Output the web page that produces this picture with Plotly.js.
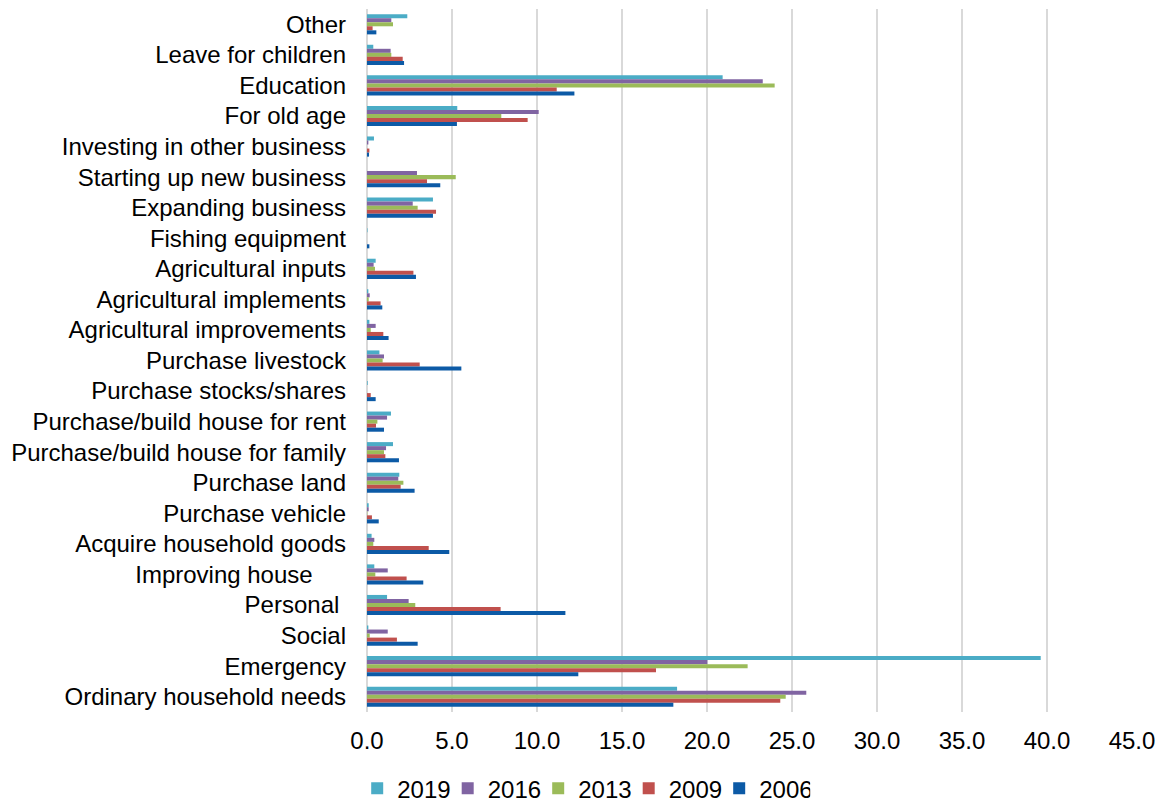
<!DOCTYPE html>
<html>
<head>
<meta charset="utf-8">
<script src="https://cdn.plot.ly/plotly-3.0.1.min.js"></script>
<style>
  html, body { margin: 0; padding: 0; background: #fff; }
  #chart { width: 1162px; height: 803px; }
</style>
</head>
<body>
<div id="chart"></div>
<script>
// Categories, listed top to bottom as displayed
const categories = [
  "Other",
  "Leave for children",
  "Education",
  "For old age",
  "Investing in other business",
  "Starting up new business",
  "Expanding business",
  "Fishing equipment",
  "Agricultural inputs",
  "Agricultural implements",
  "Agricultural improvements",
  "Purchase livestock",
  "Purchase stocks/shares",
  "Purchase/build house for rent",
  "Purchase/build house for family",
  "Purchase land",
  "Purchase vehicle",
  "Acquire household goods",
  "Improving house\u00A0\u00A0\u00A0\u00A0\u00A0",
  "Personal\u00A0",
  "Social",
  "Emergency",
  "Ordinary household needs"
];

const seriesNames = ["2019", "2016", "2013", "2009", "2006"];

const values2019 = [2.37, 0.37, 20.92, 5.31, 0.41, 0.00, 3.88, 0.03, 0.51, 0.08, 0.14, 0.73, 0.04, 1.41, 1.53, 1.90, 0.10, 0.27, 0.43, 1.18, 0.08, 39.63, 18.24];
const values2016 = [1.43, 1.39, 23.28, 10.10, 0.08, 2.94, 2.69, 0.00, 0.39, 0.16, 0.51, 1.00, 0.00, 1.18, 1.12, 1.84, 0.10, 0.43, 1.22, 2.45, 1.22, 20.02, 25.84];
const values2013 = [1.53, 1.43, 23.98, 7.90, 0.00, 5.22, 2.98, 0.00, 0.47, 0.10, 0.22, 0.92, 0.00, 0.61, 1.00, 2.14, 0.02, 0.37, 0.49, 2.84, 0.16, 22.39, 24.63];
const values2009 = [0.33, 2.10, 11.16, 9.45, 0.14, 3.53, 4.06, 0.00, 2.73, 0.80, 0.96, 3.10, 0.22, 0.53, 1.08, 1.98, 0.29, 3.63, 2.33, 7.86, 1.76, 17.00, 24.31];
const values2006 = [0.55, 2.18, 12.20, 5.29, 0.12, 4.31, 3.88, 0.14, 2.88, 0.90, 1.27, 5.55, 0.51, 1.00, 1.88, 2.80, 0.69, 4.84, 3.31, 11.67, 2.98, 12.43, 18.02];

const seriesValues = [values2019, values2016, values2013, values2009, values2006];
const seriesColors = ["#4BACC6", "#8064A2", "#9BBB59", "#C0504D", "#0C5AA6"];

const tickVals = [0, 5, 10, 15, 20, 25, 30, 35, 40, 45];
const tickText = ["0.0", "5.0", "10.0", "15.0", "20.0", "25.0", "30.0", "35.0", "40.0", "45.0"];

const traces = seriesNames.map((name, i) => ({
  type: "bar",
  orientation: "h",
  name: name,
  y: categories,
  x: seriesValues[i],
  marker: { color: seriesColors[i] },
  hoverinfo: "x+y+name"
}));

const FONT = "Liberation Sans, Arial, sans-serif";
const FS = 24;

const layout = {
  width: 1162,
  height: 803,
  margin: { l: 367, r: 30, t: 9, b: 91, autoexpand: false },
  paper_bgcolor: "#ffffff",
  plot_bgcolor: "#ffffff",
  font: { family: FONT, size: FS, color: "#000000" },
  barmode: "group",
  bargap: 0.34,
  bargroupgap: 0,
  showlegend: true,
  legend: {
    orientation: "h",
    xref: "container",
    x: 0.3074,
    xanchor: "left",
    yref: "container",
    y: 0.046,
    yanchor: "top",
    font: { family: FONT, size: FS, color: "#000000" },
    itemwidth: 30,
    entrywidth: 45.5,
    traceorder: "normal",
    bgcolor: "rgba(0,0,0,0)"
  },
  xaxis: {
    range: [0, 45],
    tickvals: tickVals,
    ticktext: tickText,
    showgrid: true,
    gridcolor: "#D9D9D9",
    gridwidth: 2,
    zeroline: true,
    zerolinecolor: "#D9D9D9",
    zerolinewidth: 2,
    showline: false,
    ticks: "",
    ticklabelstandoff: 12,
    tickfont: { family: FONT, size: FS, color: "#000000" },
    fixedrange: true
  },
  yaxis: {
    type: "category",
    autorange: "reversed",
    showgrid: false,
    zeroline: false,
    showline: false,
    ticks: "",
    ticklabelstandoff: 20,
    tickfont: { family: FONT, size: FS, color: "#000000" },
    fixedrange: true
  }
};

Plotly.newPlot("chart", traces, layout, { displayModeBar: false, staticPlot: true });
</script>
</body>
</html>
